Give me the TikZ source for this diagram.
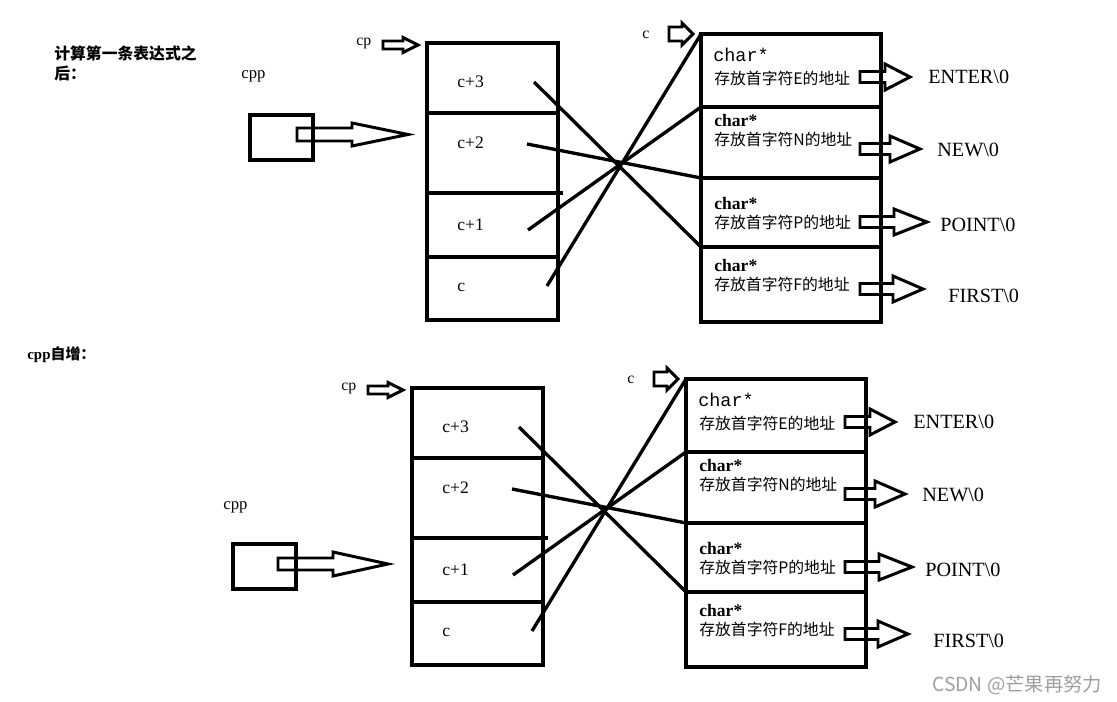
\documentclass[tikz,border=0pt]{standalone}
\usepackage{fontspec}
\setmainfont{Liberation Serif}
\newfontfamily\cjk{Noto Sans CJK SC}
\newfontfamily\monof{Liberation Mono}
\usepackage{tikz}
\usetikzlibrary{calc}

% hollow block arrow: start, length, shaft half width, head half width, head length
\newcommand{\fatarrow}[5]{%
  \draw[fat] (#1) ++(0,#3) -- ++(#2-#5,0) -- ++(0,#4-#3) -- ++(#5,-#4)
    -- ++(-#5,-#4) -- ++(0,#4-#3) -- ++(-#2+#5,0) -- cycle;}

% one memory picture: pointer block, string-address block and strings
\newcommand{\mempanel}[1]{%
  % pointer block c+3 .. c
  \node[cell, minimum height=1.40cm] (#1s3) at (427,43) {};
  \node[cell, minimum height=1.60cm] (#1s2) at (#1s3.south west) {};
  \node[cell, minimum height=1.28cm] (#1s1) at (#1s2.south west) {};
  \node[cell, minimum height=1.26cm] (#1s0) at (#1s1.south west) {};
  \draw[wire] (#1s1.north east) -- ++(5,0);
  \node[idx] (#1i3) at (457,82) {c+3};
  \node[idx] (#1i2) at (457,143) {c+2};
  \node[idx] (#1i1) at (457,225) {c+1};
  \node[idx] (#1i0) at (457,287) {c};
  % string address block
  \node[slot, minimum height=1.46cm] (#1r0) at (701,34) {};
  \node[slot, minimum height=1.42cm] (#1r1) at (#1r0.south west) {};
  \node[slot, minimum height=1.38cm] (#1r2) at (#1r1.south west) {};
  \node[slot, minimum height=1.50cm] (#1r3) at (#1r2.south west) {};
  \node[ptr, font=\monof\fontsize{10.5}{12}\selectfont] (#1h0) at (713,55) {char*};
  \node[addr] (#1d0) at (714,78) {存放首字符E的地址};
  \node[ptr] (#1h1) at (714,120) {char*};
  \node[addr] (#1d1) at (714,139) {存放首字符N的地址};
  \node[ptr] (#1h2) at (714,203) {char*};
  \node[addr] (#1d2) at (714,222) {存放首字符P的地址};
  \node[ptr] (#1h3) at (714,265) {char*};
  \node[addr] (#1d3) at (714,284) {存放首字符F的地址};
  % crossing pointers
  \coordinate (#1p3) at (534,82);
  \coordinate (#1p2) at (527,144);
  \coordinate (#1p1) at (528,230);
  \coordinate (#1p0) at (547,286);
  \draw[wire] (#1p3) -- (#1r3.north west);
  \draw[wire] (#1p2) -- (#1r2.north west);
  \draw[wire] (#1p1) -- (#1r1.north west);
  \draw[wire] (#1p0) -- (#1r0.north west);
  % strings
  \coordinate (#1a0) at (860,77);  \fatarrow{#1a0}{50}{5.5}{13}{25}
  \coordinate (#1a1) at (860,149); \fatarrow{#1a1}{60}{5.5}{13}{30}
  \coordinate (#1a2) at (860,222); \fatarrow{#1a2}{67}{5.5}{13}{33}
  \coordinate (#1a3) at (860,289); \fatarrow{#1a3}{63}{5.5}{13}{30}
  \node[txt] (#1t0) at (928,77) {ENTER\textbackslash 0};
  \node[txt] (#1t1) at (937,150) {NEW\textbackslash 0};
  \node[txt] (#1t2) at (940,225) {POINT\textbackslash 0};
  \node[txt] (#1t3) at (948,296) {FIRST\textbackslash 0};
  % cp and c
  \node[tag] (#1cp) at (356,43) {cp};
  \coordinate (#1cpa) at (383,45); \fatarrow{#1cpa}{35}{4}{7.5}{15}
  \node[tag] (#1c) at (642,35) {c};
  \coordinate (#1ca) at (669,34); \fatarrow{#1ca}{24}{7}{11}{11}
}

\begin{document}
\begin{tikzpicture}[x=0.02cm, y=-0.02cm,
    cell/.style={draw, line width=1.9pt, minimum width=2.62cm, inner sep=0pt, outer sep=0pt, anchor=north west},
    slot/.style={cell, minimum width=3.6cm},
    wire/.style={line width=1.9pt},
    fat/.style={line width=1.7pt, line join=miter},
    idx/.style={anchor=west, inner sep=0pt, font=\fontsize{10}{12}\selectfont},
    ptr/.style={anchor=west, inner sep=0pt, font=\bfseries\fontsize{10}{12}\selectfont},
    addr/.style={anchor=west, inner sep=0pt, font=\cjk\fontsize{9}{11}\selectfont},
    txt/.style={anchor=west, inner sep=0pt, font=\fontsize{11.5}{13}\selectfont},
    tag/.style={anchor=west, inner sep=0pt, font=\fontsize{9}{11}\selectfont}
]
\useasboundingbox (0,0) rectangle (1117,702);

% after the first expression
\node[anchor=west, inner sep=0pt, align=left, font=\cjk\bfseries\fontsize{9}{11.4}\selectfont] (title1) at (54,63) {计算第一条表达式之\\后：};
\node[tag, font=\fontsize{9.5}{11}\selectfont] (cpp1) at (241,76) {cpp};
\node[cell, anchor=center, minimum width=1.26cm, minimum height=0.9cm] (cppa) at (281.5,137.5) {};
\coordinate (cppa0) at ($(cppa.east)+(-16,-3)$);
\fatarrow{cppa0}{111}{6.5}{11.5}{56}
\mempanel{a}

% after cpp++
\node[anchor=west, inner sep=0pt, font=\bfseries\fontsize{8.5}{10}\selectfont] (title2) at (27,355) {cpp{\cjk 自增：}};
\node[tag, font=\fontsize{9.5}{11}\selectfont] (cpp2) at (223,507) {cpp};
\node[cell, anchor=center, minimum width=1.26cm, minimum height=0.9cm] (cppb) at (264.5,566.5) {};
\coordinate (cppb0) at ($(cppb.east)+(-18,-2.5)$);
\fatarrow{cppb0}{110}{6}{12}{55}
\begin{scope}[shift={(-15,345)}]
\mempanel{b}
\end{scope}

\node[anchor=west, inner sep=0pt, text=gray!75, font=\cjk\fontsize{11}{13}\selectfont] (mark) at (932,685) {CSDN @芒果再努力};
\end{tikzpicture}
\end{document}
